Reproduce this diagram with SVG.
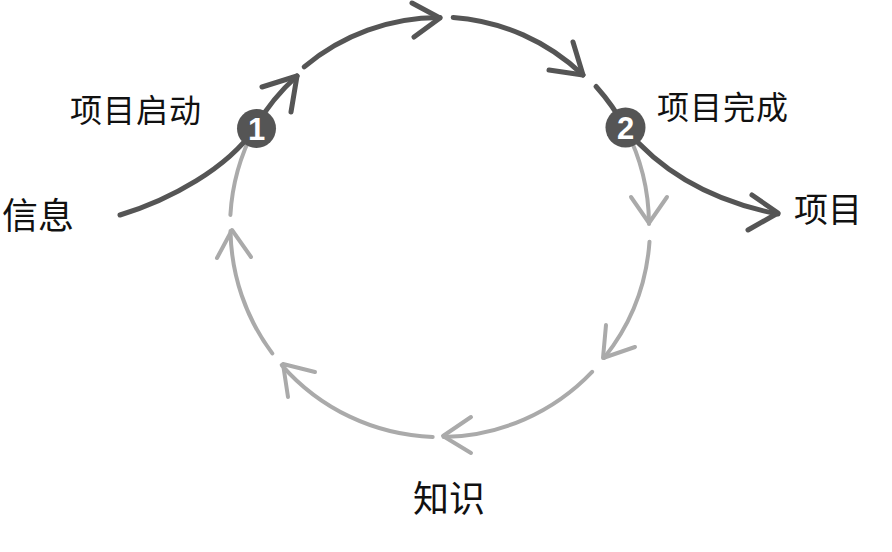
<svg xmlns="http://www.w3.org/2000/svg" width="892" height="552" viewBox="0 0 892 552">
<style>
.dk{fill:none;stroke:#555;stroke-width:5;stroke-linecap:round;stroke-linejoin:round}
.lt{fill:none;stroke:#aaa;stroke-width:4;stroke-linecap:round;stroke-linejoin:round}
.lbl{font-family:"Noto Sans CJK SC","Noto Sans CJK JP",sans-serif;fill:#111}
.num{font-family:"Liberation Sans",Arial,sans-serif;font-weight:bold;font-size:31px;fill:#fff;text-anchor:middle}
</style>
<rect width="892" height="552" fill="#fff"/>
<g id="connectors">
  <path class="lt" d="M625.4,128.4 A210,210 0 0 1 649,224"/>
  <polyline class="lt" points="631,197 649,223 667,197"/>
  <path class="lt" d="M649.5,241.7 A210,210 0 0 1 604,358"/>
  <polyline class="lt" points="606,325 603,358 635,347"/>
  <path class="lt" d="M592.1,371.8 A210,210 0 0 1 443.7,437"/>
  <polyline class="lt" points="471,417 443,436 471,453"/>
  <path class="lt" d="M432.7,436.9 A210,210 0 0 1 281.7,365.1"/>
  <polyline class="lt" points="315,372 283,364 288,397"/>
  <path class="lt" d="M272.3,353.4 A210,210 0 0 1 230.5,231"/>
  <polyline class="lt" points="217,258 232,230 251,257"/>
  <path class="lt" d="M230.4,214.9 A210,210 0 0 1 254.6,128.4"/>
  <path class="dk" d="M120,215 C170,200 228,168 254.6,128.4 A210,210 0 0 1 297,76"/>
  <polyline class="dk" points="262,87 297,76 291,112"/>
  <path class="dk" d="M304.2,66.8 A210,210 0 0 1 440,17.5"/>
  <polyline class="dk" points="412,3 440,18 414,37"/>
  <path class="dk" d="M453.2,17.4 A210,210 0 0 1 583,75"/>
  <polyline class="dk" points="549,70 583,75 573,42"/>
  <path class="dk" d="M596.1,86.5 A210,210 0 0 1 625.4,128.4 Q680,195 778,214"/>
  <polyline class="dk" points="752,195 778,213 748,230"/>
</g>
<g id="node1">
  <circle cx="256.5" cy="128.5" r="19.5" fill="#555"/>
  <text class="num" x="256.5" y="140">1</text>
</g>
<g id="node2">
  <circle cx="625.5" cy="127.5" r="20" fill="#555"/>
  <text class="num" x="625.5" y="139">2</text>
</g>
<g id="label-start">
  <text class="lbl" x="70" y="122" font-size="32" letter-spacing="1">项目启动</text>
</g>
<g id="label-done">
  <text class="lbl" x="657" y="119" font-size="32" letter-spacing="1">项目完成</text>
</g>
<g id="label-info">
  <text class="lbl" x="2" y="229" font-size="36">信息</text>
</g>
<g id="label-project">
  <text class="lbl" x="794" y="222" font-size="34">项目</text>
</g>
<g id="label-knowledge">
  <text class="lbl" x="413" y="512" font-size="36">知识</text>
</g>
</svg>
